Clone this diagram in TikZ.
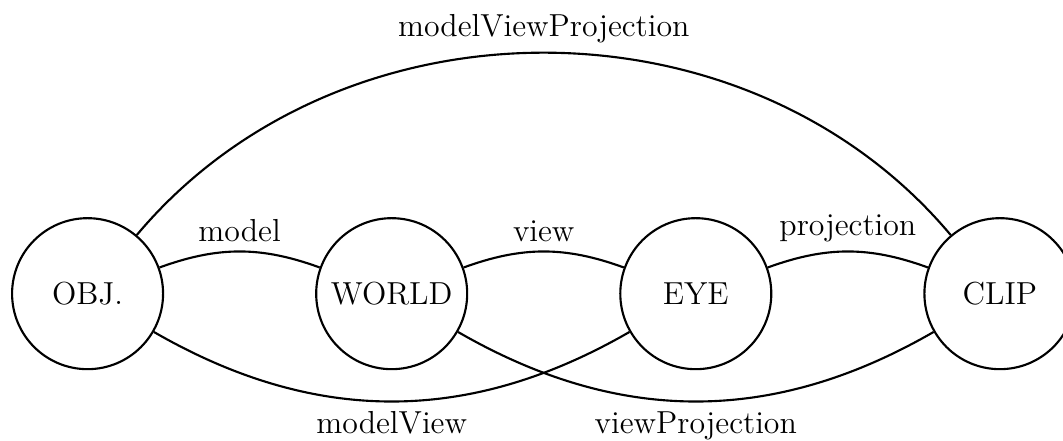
\documentclass[tikz,border=0pt]{standalone}
\usepackage{tikz}
\usetikzlibrary{positioning}

\begin{document}
\begin{tikzpicture}[
  space/.style={draw,circle,thick,minimum size=2cm,inner sep=1pt,font=\large},
  lbl/.style={font=\large},
  node distance=2cm]
\useasboundingbox (-1.16,-1.95) rectangle (12.92,3.89);
\node[space] (obj) {OBJ.};
\node[space,right=of obj] (world) {WORLD};
\node[space,right=of world] (eye) {EYE};
\node[space,right=of eye] (clip) {CLIP};
\draw[thick] (obj) to[bend left=20] node[above,lbl] {model} (world);
\draw[thick] (world) to[bend left=20] node[above,lbl] {view} (eye);
\draw[thick] (eye) to[bend left=20] node[above,lbl] {projection} (clip);
\draw[thick] (obj) to[bend left=50] node[above,lbl] {modelViewProjection} (clip);
\draw[thick] (obj) to[bend right=30] node[below,lbl] {modelView} (eye);
\draw[thick] (world) to[bend right=30] node[below,lbl] {viewProjection} (clip);
\end{tikzpicture}
\end{document}
